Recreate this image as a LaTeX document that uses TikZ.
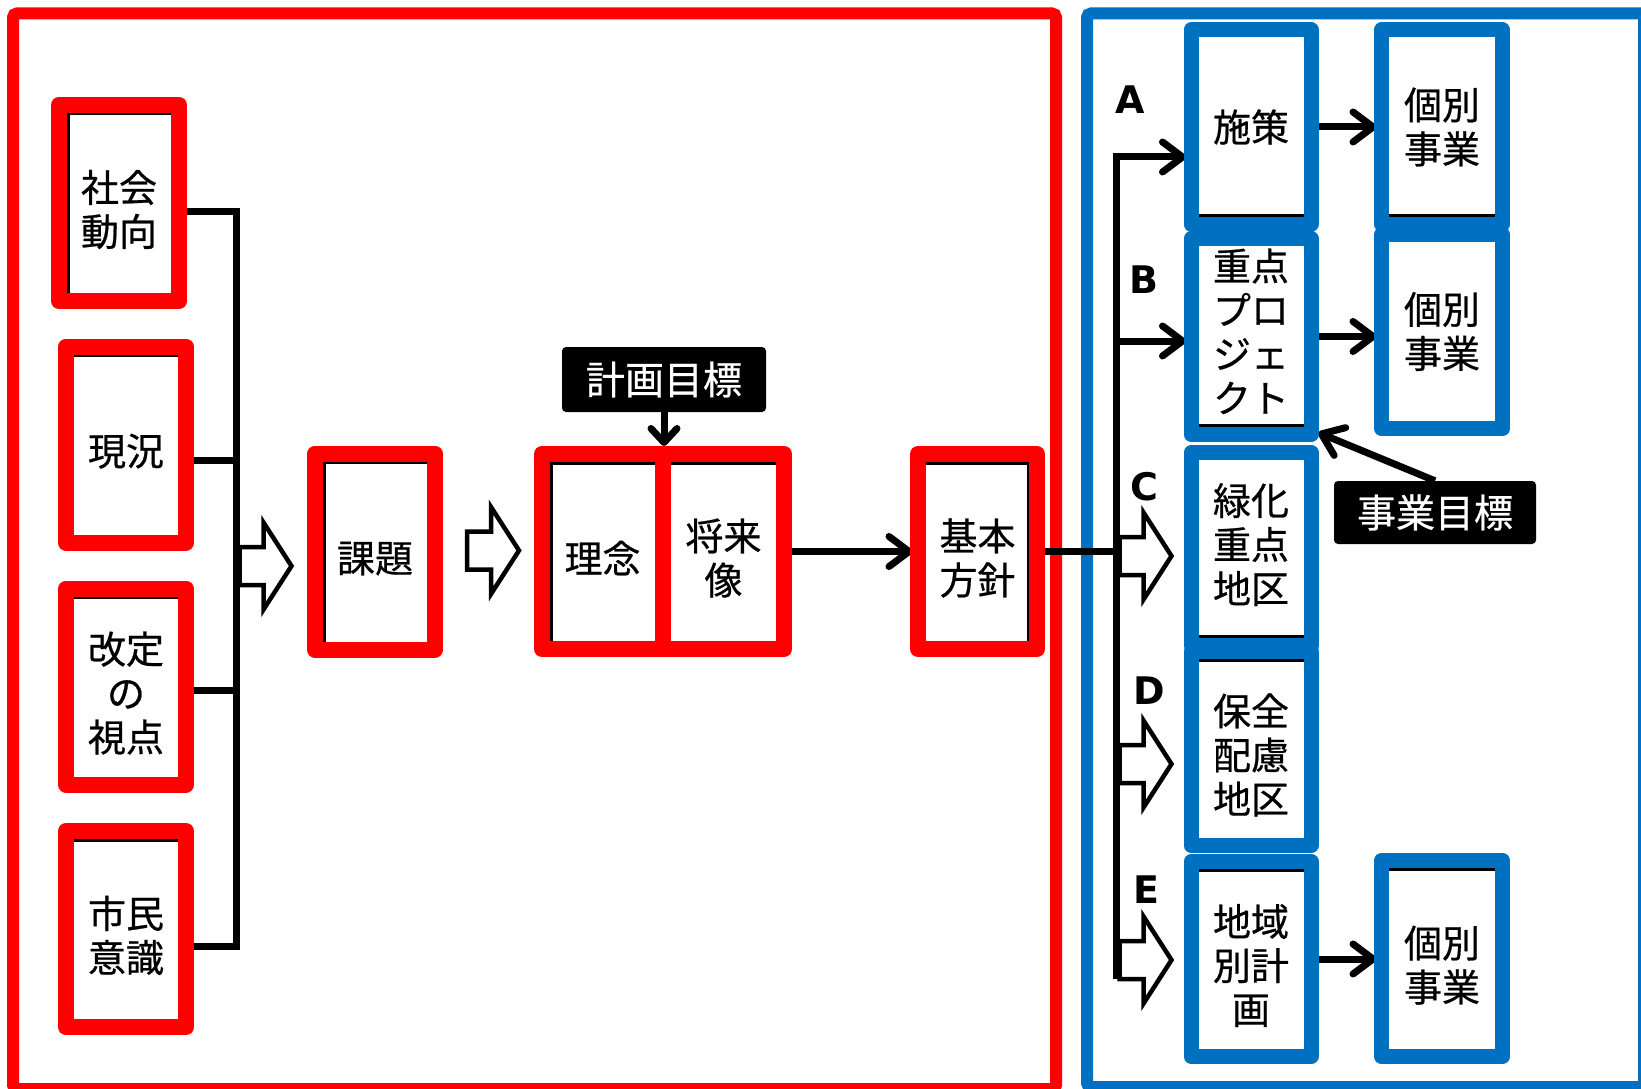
\documentclass[tikz,border=0pt]{standalone}
\usepackage{fontspec}
\newfontfamily\jp{Noto Sans CJK JP}[FakeBold=0.6]
\newfontfamily\lat{DejaVu Sans}
\usetikzlibrary{arrows.meta}
\pgfdeclarelayer{bg}
\pgfsetlayers{bg,main}
\definecolor{fred}{HTML}{FF0000}
\definecolor{fblue}{HTML}{0070C0}
\newcommand\edgeT{\draw[black,line width=3pt] ([yshift=-9pt]path picture bounding box.north west) -- ([yshift=-9pt]path picture bounding box.north east);}
\newcommand\edgeB{\draw[black,line width=3pt] ([yshift=9pt]path picture bounding box.south west) -- ([yshift=9pt]path picture bounding box.south east);}
\newcommand\edgeL{\draw[black,line width=3pt] ([xshift=9pt]path picture bounding box.south west) -- ([xshift=9pt]path picture bounding box.north west);}
\newcommand\edgeR{\draw[black,line width=3pt] ([xshift=-9pt]path picture bounding box.south east) -- ([xshift=-9pt]path picture bounding box.north east);}
\tikzset{
  box/.style={line width=16pt, line join=round, fill=white, inner sep=0pt, align=center,
    font=\jp\fontsize{38}{44}\selectfont, minimum width=120pt, minimum height=196pt},
  redbox/.style={box, draw=fred, lower},
  bluebox/.style={box, draw=fblue, line width=15pt, minimum height=194pt},
  lower/.style={execute at begin node={\rule{0pt}{#1}}},
  lower/.default=45pt,
  higher/.style={execute at end node={\rule[-12pt]{0pt}{1pt}}},
  blk/.style={path picture={#1}},
  tag/.style={fill=black, text=white, rounded corners=4pt, inner sep=0pt,
    font=\jp\fontsize{39}{44}\selectfont},
  conn/.style={line width=7pt, line join=miter},
  arr/.style={-{Straight Barb[length=20pt,width=30pt,round]}, shorten >=-2.5pt},
  arrsmall/.style={-{Straight Barb[length=14pt,width=26pt,round]}, shorten >=0pt},
  letter/.style={font=\lat\bfseries\fontsize{38}{40}\selectfont, inner sep=0pt},
  harr/.pic={\draw[line width=4.5pt, fill=white, miter limit=10]
    (0,-19) -- (24,-19) -- (24,-43.5) -- (52,0) -- (24,43.5) -- (24,19) -- (0,19) -- cycle;},
}
\begin{document}
\begin{tikzpicture}[x=1pt,y=-1pt]
\useasboundingbox (0,0) rectangle (1641,1089);

% boxes, left part
\node[redbox, lower=89pt, blk={\edgeT\edgeL}] (shakai) at (119,203) {社会\\動向};
\node[redbox, blk={\edgeT}] (genkyo) at (126,444.5) {現況};
\node[redbox, lower=133pt, blk={\edgeT}] (kaitei) at (126,686.5) {改定\\の\\視点};
\node[redbox, lower=89pt, blk={\edgeT}] (shimin) at (126,929) {市民\\意識};
\node[redbox, blk={\edgeT\edgeL}] (kadai) at (375,551.5) {課題};
\node[redbox, blk={\edgeT\edgeL}, minimum width=121pt, minimum height=195pt] (rinen) at (602.5,551.5) {理念};
\node[redbox, lower=89pt, blk={\edgeT}, minimum width=121pt, minimum height=195pt] (shorai) at (723.5,551.5) {将来\\像};
\node[redbox, lower=89pt, blk={\edgeT\edgeR}, minimum width=119pt, minimum height=195pt] (kihon) at (977.5,551.5) {基本\\方針};
\node[tag, minimum width=204pt, minimum height=65pt] (keikaku) at (664,379.5) {計画目標};

% boxes, right part
\node[bluebox, blk={\edgeB}] (sesaku) at (1251,127) {施策};
\node[bluebox, higher, blk={\edgeB}, minimum height=196pt] (juten) at (1251,336.5) {重点\\プロ\\ジェ\\クト};
\node[bluebox, higher, blk={\edgeB}, minimum height=193pt] (ryokka) at (1251,549) {緑化\\重点\\地区};
\node[bluebox, lower=133pt, blk={\edgeT}] (hozen) at (1251,748.5) {保全\\配慮\\地区};
\node[bluebox, lower=133pt, blk={\edgeT}, minimum height=195pt] (chiiki) at (1251,959) {地域\\別計\\画};
\node[bluebox, blk={\edgeB}, minimum width=121pt] (kobetsuA) at (1442,127) {個別\\事業};
\node[bluebox, minimum width=121pt] (kobetsuB) at (1442,331.5) {個別\\事業};
\node[bluebox, lower=89pt, blk={\edgeT}, minimum width=121pt, minimum height=196pt] (kobetsuC) at (1442,958.5) {個別\\事業};
\node[tag, minimum width=202pt, minimum height=63pt] (jigyo) at (1435,512.5) {事業目標};

% letters
\node[letter] (labA) at (1130,100) {A};
\node[letter] (labB) at (1144,280) {B};
\node[letter] (labC) at (1144,487) {C};
\node[letter] (labD) at (1149,691) {D};
\node[letter] (labE) at (1146,890) {E};

% trunk points
\coordinate (t1) at (236,211);
\coordinate (t2) at (236,460);
\coordinate (t3) at (236,690);
\coordinate (t4) at (236,946);
\coordinate (ta) at (1116,157);
\coordinate (tb) at (1116,341);
\coordinate (te) at (1116,979);

\begin{pgfonlayer}{bg}
  \fill[white] (0,0) rectangle (1641,1089);
  \draw[draw=fred, line width=12pt, rounded corners=4pt] (13,13.5) rectangle (1056,1089);
  \draw[draw=fblue, line width=12pt, rounded corners=4pt] (1087,13.5) rectangle (1644,1087);
  \draw[conn] (shakai.east |- t1) -- (t1) -- (t4) -- (shimin.east |- t4);
  \draw[conn] (genkyo.east |- t2) -- (t2);
  \draw[conn] (kaitei.east |- t3) -- (t3);
  \draw[conn, arrsmall] (keikaku.south) -- (keikaku.south |- rinen.north);
  \draw[conn, arr] (shorai.east) -- (kihon.west);
  \draw[conn] (kihon.east) -- (kihon.east -| ta);
  \draw[conn, arr] (te) -- (ta) -- (ta -| sesaku.west);
  \draw[conn, arr] (tb) -- (tb -| juten.west);
  \draw[conn, arr] (sesaku.east) -- (kobetsuA.west);
  \draw[conn, arr] (juten.east) -- (juten.east -| kobetsuB.west);
  \draw[conn, arr] (chiiki.east) -- (chiiki.east -| kobetsuC.west);
  \draw[conn, arr, shorten >=-9pt] (jigyo.north) -- ([shift={(8,-6)}]juten.south east);
\end{pgfonlayer}

% hollow arrows
\pic at (239.5,566) {harr};
\pic at (467,550.5) {harr};
\pic at (1119.5,556) {harr};
\pic at (1119.5,764) {harr};
\pic at (1119.5,960) {harr};
\end{tikzpicture}
\end{document}
